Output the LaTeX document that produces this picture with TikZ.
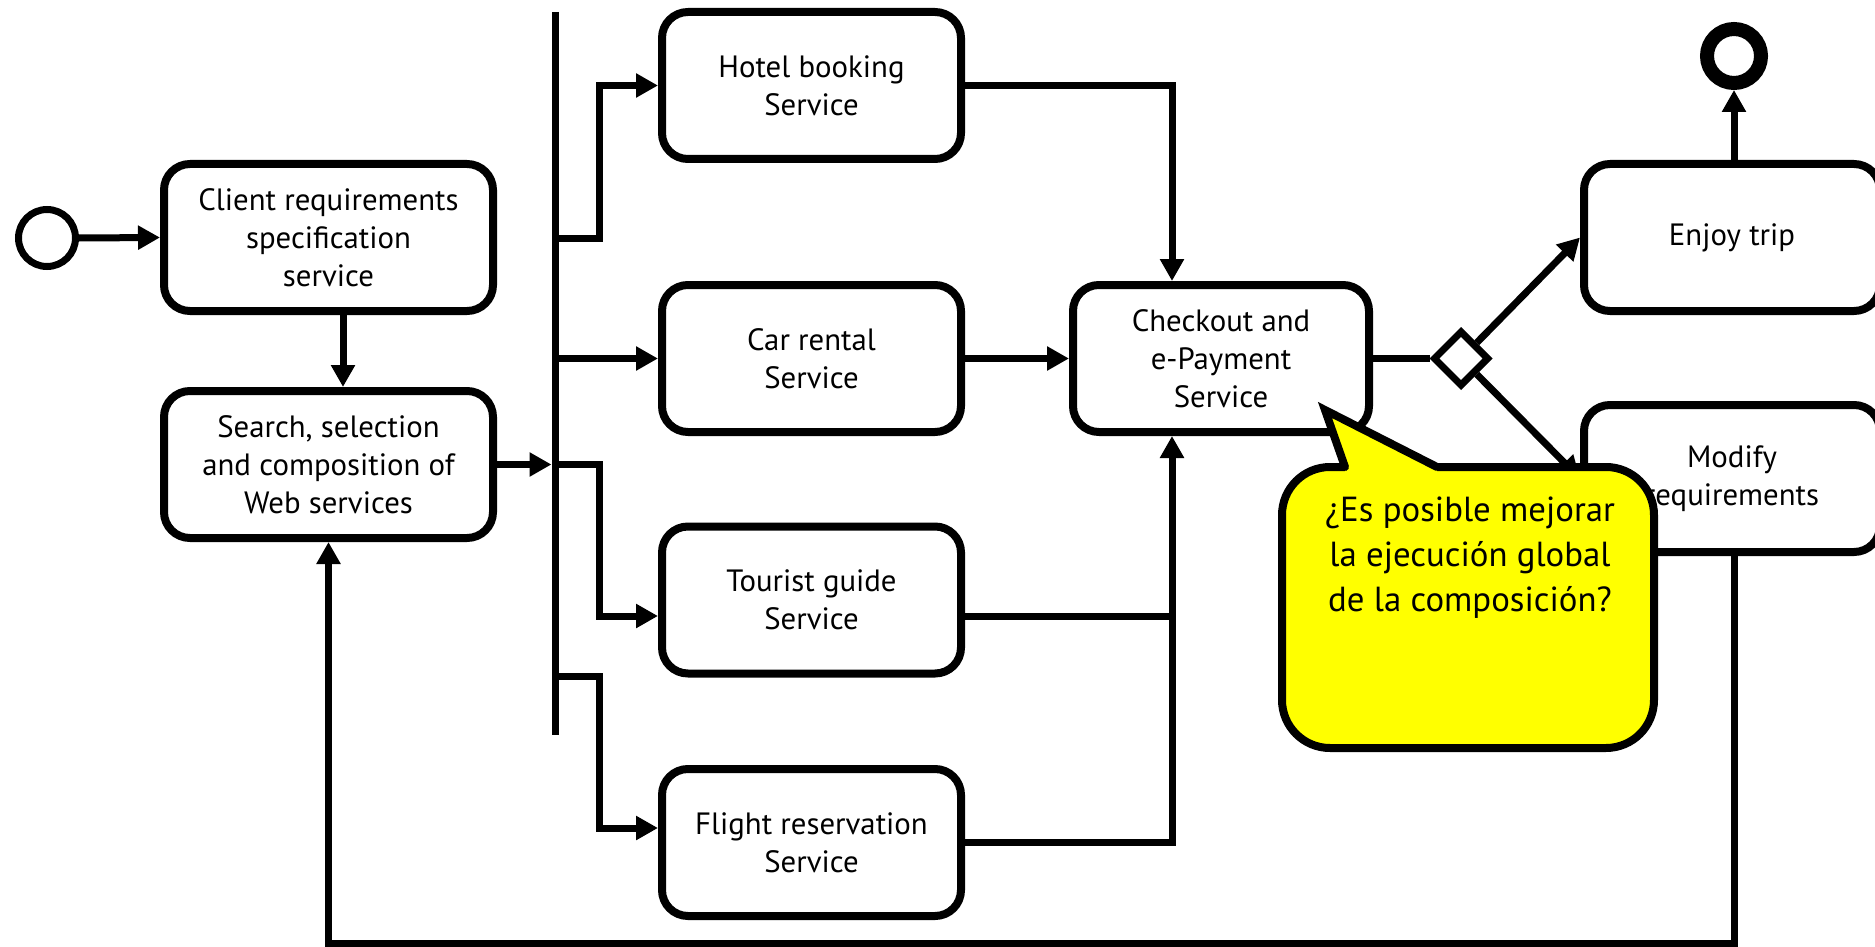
\documentclass[tikz,border=0pt]{standalone}
\usepackage{fontspec}
\setmainfont{PT Sans}
\usetikzlibrary{arrows.meta,shapes.geometric,calc}
\definecolor{calloutyellow}{RGB}{255,255,0}
\begin{document}
\begin{tikzpicture}[x=0.5pt,y=-0.5pt,
  box/.style={draw, line width=4pt, rounded corners=13pt, fill=white, align=center,
    inner sep=0pt, minimum height=73.5pt, font=\fontsize{15.4}{19}\selectfont},
  boxA/.style={box, minimum width=164.5pt},
  boxB/.style={box, minimum width=149.5pt},
  boxC/.style={box, minimum width=148pt},
  conn/.style={line width=3.5pt},
  arr/.style={conn, -{Triangle[length=11pt,width=11.5pt]}},
  startev/.style={draw, circle, line width=3.5pt, minimum size=28.5pt, inner sep=0pt, fill=white},
  endev/.style={draw, circle, line width=7pt, minimum size=27pt, inner sep=0pt, fill=white},
  gate/.style={draw, diamond, shape aspect=1, line width=3.5pt, minimum size=28pt, inner sep=0pt, fill=white},
  callout/.style={fill=calloutyellow, draw=black, line width=4pt},
  calltext/.style={align=center, font=\fontsize{17.4}{22.5}\selectfont}
  ]
\useasboundingbox (0,0) rectangle (1875,947);

% nodes
\node[startev] (start) at (47,238) {};
\node[boxA] (client) at (328.5,237.5) {Client requirements\\specification\\service};
\node[boxA] (search) at (328.5,464.5) {Search, selection\\and composition of\\Web services};
\node[boxB] (hotel) at (811.5,85.5) {Hotel booking\\Service};
\node[boxB] (car) at (811.5,358.5) {Car rental\\Service};
\node[boxB] (tourist) at (811.5,600) {Tourist guide\\Service};
\node[boxB] (flight) at (811.5,842.5) {Flight reservation\\Service};
\node[boxC] (checkout) at (1221,358.5) {Checkout and\\e-Payment\\Service};
\node[gate] (dia) at (1461,358.5) {};
\node[boxC] (enjoy) at (1732,237.5) {Enjoy trip};
\node[boxC] (modify) at (1732,478.5) {Modify\\requirements};
\node[endev] (end) at (1734,56) {};

% helper coordinates
\coordinate (c1) at (343,0);
\coordinate (barT) at (555,12);
\coordinate (barB) at (555,735);
\coordinate (barL) at (551.5,0);
\coordinate (b1) at (555,238);
\coordinate (b2) at (555,358.5);
\coordinate (b3) at (555,464.5);
\coordinate (b4) at (555,676);
\coordinate (k1) at (599,238);
\coordinate (k3) at (599,464.5);
\coordinate (k4) at (599,676);
\coordinate (ty) at (0,616);
\coordinate (fy) at (0,828);
\coordinate (mx) at (1172,0);
\coordinate (by) at (0,943.5);

% connectors
\draw[arr] (start.east) -- (client.west);
\draw[arr] (client.south -| c1) -- (search.north -| c1);
\draw[conn] (barT) -- (barB);
\draw[arr] (search.east) -- (search.east -| barL);
\draw[arr] (b1) -- (k1) |- (hotel.west);
\draw[arr] (b2) -- (car.west);
\draw[arr] (b3) -- (k3) |- (tourist.west |- ty);
\draw[arr] (b4) -- (k4) |- (flight.west |- fy);
\draw[arr] (hotel.east) -| (mx |- checkout.north);
\draw[arr] (car.east) -- (checkout.west);
\draw[conn] (tourist.east |- ty) -- (mx |- ty);
\draw[arr] (flight.east) -| (mx |- checkout.south);
\draw[conn] (checkout.east) -- (dia.west);
\draw[arr] (dia.north east) -- (enjoy.west);
\draw[arr] (dia.south east) -- (modify.west);
\draw[arr] (end |- enjoy.north) -- (end.south);
\draw[arr] (modify.south -| end) -- (end |- by) -| (search.south);

% callout
\draw[callout, rounded corners=24pt] (1282,467) rectangle (1654,748);
\fill[calloutyellow] (1345,467) -- (1325,410) -- (1437,467) -- (1437,473) -- (1345,473) -- cycle;
\draw[line width=4pt, line cap=round] (1345,467) -- (1325,410) -- (1437,467);
\node[calltext] (q) at (1470,558) {¿Es posible mejorar\\la ejecución global\\de la composición?};
\end{tikzpicture}
\end{document}
